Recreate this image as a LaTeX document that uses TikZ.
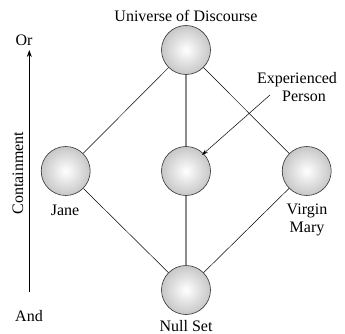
\documentclass[tikz,border=0pt]{standalone}
\usepackage{fontspec}
\setmainfont{Liberation Serif}
\usetikzlibrary{arrows.meta}
\begin{document}
\begin{tikzpicture}[x=1pt,y=-1pt,
  ballnode/.style={circle,draw=black!80,line width=0.6pt,minimum size=49pt,inner sep=0pt,
    shading=radial,inner color=white,outer color=black!22},
  lbl/.style={font=\fontsize{16}{17.5}\selectfont,inner sep=0pt,align=center},
  thinline/.style={line width=0.5pt,black},
  grayline/.style={line width=1.1pt,black!45}]
\useasboundingbox (0,0) rectangle (345,334);
\node[ballnode] (U) at (186,50) {};
\node[ballnode] (E) at (186,171) {};
\node[ballnode] (J) at (65.7,171) {};
\node[ballnode] (V) at (306.7,171) {};
\node[ballnode] (N) at (186,290) {};
\draw[grayline] (U) -- (E);
\draw[grayline] (E) -- (N);
\draw[thinline] (U) -- (J);
\draw[thinline] (U) -- (V);
\draw[thinline] (J) -- (N);
\draw[thinline] (V) -- (N);
\node[lbl] (tU) at (186,16) {Universe of Discourse};
\node[lbl] (tE) at (297,87) {Experienced\\\hspace*{14pt}Person};
\node[lbl] (tJ) at (65,210) {Jane};
\node[lbl] (tV) at (307,220) {Virgin\\Mary};
\node[lbl] (tN) at (186,326) {Null Set};
\node[lbl] (tOr) at (24,40) {Or};
\node[lbl] (tAnd) at (29,316) {And};
\node[lbl,rotate=90] (tC) at (18,173) {Containment};
\coordinate (a1) at (270,95);
\coordinate (a2) at (202,155);
\draw[thinline,-{Stealth[length=6pt,width=4pt]}] (a1) -- (a2);
\coordinate (b1) at (29.3,292);
\coordinate (b2) at (29.3,50);
\draw[line width=0.7pt,-{Stealth[length=7pt,width=5pt]}] (b1) -- (b2);
\end{tikzpicture}
\end{document}
